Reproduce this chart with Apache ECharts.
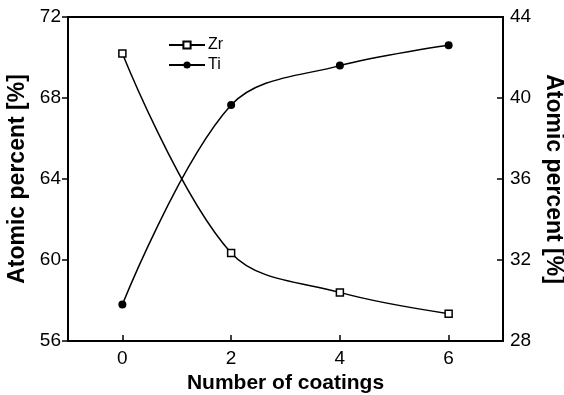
<!DOCTYPE html>
<html>
<head>
<meta charset="utf-8">
<script src="https://cdn.jsdelivr.net/npm/echarts@6/dist/echarts.min.js"></script>
<style>
	html, body { margin: 0; padding: 0; background: #fff; }
	#chart { width: 564px; height: 395px; }
</style>
</head>
<body>
<div id="chart"></div>
<script>
const coatings = [0, 2, 4, 6]
const zrPercent = [70.2, 60.35, 58.4, 57.35]
const tiPercent = [29.8, 39.65, 41.6, 42.6]
const xTicks = [0, 2, 4, 6]

const chart = echarts.init(document.getElementById('chart'))
const font = 'Liberation Sans, Arial, sans-serif'

chart.setOption({
	animation: false,
	backgroundColor: '#fff',
	grid: {
		left: 68,
		right: 61,
		top: 17,
		bottom: 54,
		outerBoundsMode: 'none',
		containLabel: false,
		show: true,
		borderColor: '#000',
		borderWidth: 2,
		backgroundColor: 'transparent'
	},
	legend: {
		orient: 'vertical',
		left: 163,
		top: 32,
		itemGap: 4,
		itemWidth: 36,
		itemHeight: 9,
		textStyle: { color: '#000', fontSize: 16, fontFamily: font, padding: [0, 0, 0, -2] },
		data: ['Zr', 'Ti']
	},
	xAxis: {
		type: 'value',
		min: -1,
		max: 7,
		name: 'Number of coatings',
		nameLocation: 'middle',
		nameGap: 30,
		nameTextStyle: { color: '#000', fontSize: 21, fontWeight: 'bold', fontFamily: font },
		axisLine: { onZero: false, lineStyle: { color: '#000', width: 2 } },
		axisTick: { inside: true, length: 6, customValues: xTicks, lineStyle: { color: '#000', width: 1.5 } },
		axisLabel: { color: '#000', fontSize: 19, fontFamily: font, margin: 8, customValues: xTicks },
		splitLine: { show: false }
	},
	yAxis: [
		{
			type: 'value',
			min: 56,
			max: 72,
			interval: 4,
			name: 'Atomic percent [%]',
			nameLocation: 'middle',
			nameGap: 34,
			nameTextStyle: { color: '#000', fontSize: 23, fontWeight: 'bold', fontFamily: font },
			axisLine: { show: true, onZero: false, lineStyle: { color: '#000', width: 2 } },
			axisTick: { show: true, length: 6, lineStyle: { color: '#000', width: 1.5 } },
			axisLabel: { color: '#000', fontSize: 19, fontFamily: font, margin: 7 },
			splitLine: { show: false }
		},
		{
			type: 'value',
			min: 28,
			max: 44,
			interval: 4,
			position: 'right',
			name: 'Atomic percent [%]',
			nameLocation: 'middle',
			nameGap: 35,
			nameRotate: -90,
			nameTextStyle: { color: '#000', fontSize: 23, fontWeight: 'bold', fontFamily: font },
			axisLine: { show: true, onZero: false, lineStyle: { color: '#000', width: 2 } },
			axisTick: { show: true, inside: true, length: 6, lineStyle: { color: '#000', width: 1.5 } },
			axisLabel: { color: '#000', fontSize: 19, fontFamily: font, margin: 7 },
			splitLine: { show: false }
		}
	],
	series: [
		{
			name: 'Zr',
			type: 'line',
			yAxisIndex: 0,
			smooth: 0.35,
			symbol: 'rect',
			symbolSize: 7,
			itemStyle: { color: '#fff', borderColor: '#000', borderWidth: 1.5 },
			lineStyle: { color: '#000', width: 1.5 },
			data: coatings.map((c, i) => [c, zrPercent[i]])
		},
		{
			name: 'Ti',
			type: 'line',
			yAxisIndex: 1,
			smooth: 0.35,
			symbol: 'circle',
			symbolSize: 8,
			itemStyle: { color: '#000' },
			lineStyle: { color: '#000', width: 1.5 },
			data: coatings.map((c, i) => [c, tiPercent[i]])
		}
	]
})
</script>
</body>
</html>
